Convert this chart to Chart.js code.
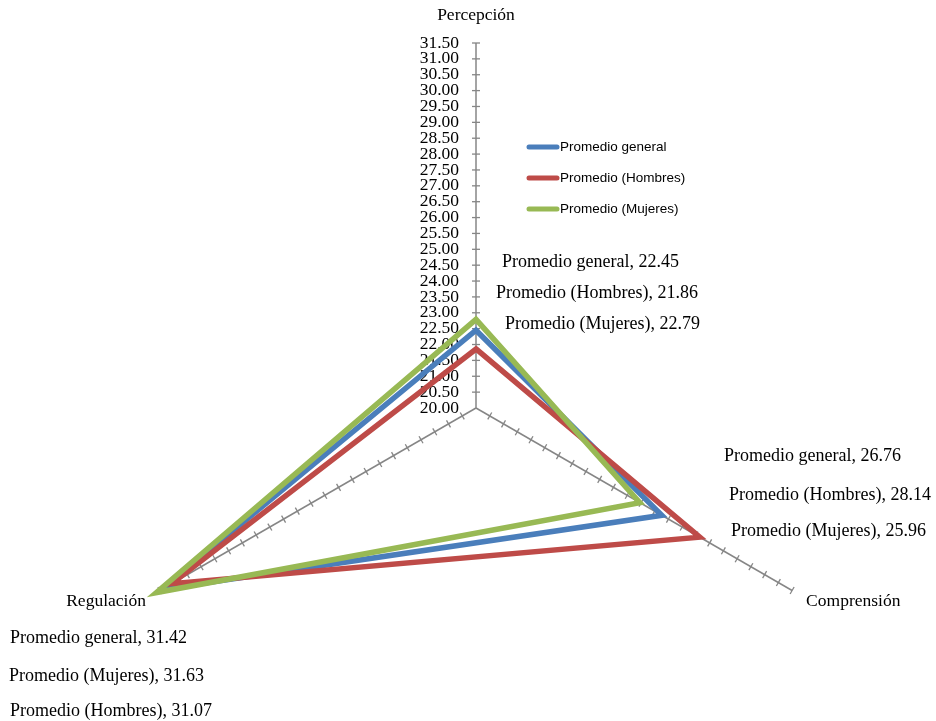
<!DOCTYPE html>
<html>
<head>
<meta charset="utf-8">
<script src="https://cdn.jsdelivr.net/npm/chart.js@4/dist/chart.umd.min.js"></script>
<style>
  html, body { margin:0; padding:0; background:#fff; overflow:hidden; }
  #wrap { width:936px; height:773px; position:relative; }
</style>
</head>
<body>
<div id="wrap"><canvas id="radar"></canvas></div>
<script>
// data
const categories = ["Percepción", "Comprensión", "Regulación"];
const seriesNames = ["Promedio general", "Promedio (Hombres)", "Promedio (Mujeres)"];
const general = [22.45, 26.76, 31.42];
const hombres = [21.86, 28.14, 31.07];
const mujeres = [22.79, 25.96, 31.63];
const tickMin = 20, tickMax = 31.5, tickStep = 0.5;

const colors = ["#4A7EBB", "#BE4B48", "#98B954"];
const axisColor = "#868686";
const serif = "'Liberation Serif', 'Times New Roman', serif";

// where the data label texts sit (per category: series index + left x + middle y)
const labelSpots = [
  [[0, 502, 262], [1, 496, 293], [2, 505, 324]],
  [[0, 724, 456], [1, 729, 495], [2, 731, 531]],
  [[0, 10, 638], [2, 9, 676], [1, 10, 711]]
];
const seriesData = [general, hombres, mujeres];

const extras = {
  id: "extras",
  beforeDatasetsDraw(chart){
    const r = chart.scales.r, ctx = chart.ctx;
    ctx.save();
    // tick marks on each axis
    ctx.strokeStyle = axisColor; ctx.lineWidth = 1.3;
    for(let i=0;i<categories.length;i++){
      const end = r.getPointPosition(i, r.drawingArea);
      const ang = Math.atan2(end.y - r.yCenter, end.x - r.xCenter);
      const px = -Math.sin(ang), py = Math.cos(ang);
      for(let v = tickMin + tickStep; v <= tickMax + 1e-9; v += tickStep){
        const p = r.getPointPositionForValue(i, v);
        ctx.beginPath();
        ctx.moveTo(p.x - px*4, p.y - py*4);
        ctx.lineTo(p.x + px*4, p.y + py*4);
        ctx.stroke();
      }
    }
    // tick labels along the first axis
    ctx.fillStyle = "#000";
    ctx.font = "17.5px " + serif;
    ctx.textAlign = "right"; ctx.textBaseline = "middle";
    for(let v = tickMin; v <= tickMax + 1e-9; v += tickStep){
      const p = r.getPointPositionForValue(0, v);
      ctx.fillText(v.toFixed(2), p.x - 17, p.y);
    }
    ctx.restore();
  },
  afterDraw(chart){
    const r = chart.scales.r, ctx = chart.ctx;
    ctx.save();
    ctx.fillStyle = "#000";
    ctx.font = "17.5px " + serif;
    ctx.textBaseline = "middle";
    // category names
    categories.forEach((c, i) => {
      const end = r.getPointPosition(i, r.drawingArea);
      if(i === 0){ ctx.textAlign = "center"; ctx.fillText(c, end.x, end.y - 28); }
      else if(end.x > r.xCenter){ ctx.textAlign = "left"; ctx.fillText(c, end.x + 14, end.y + 11); }
      else { ctx.textAlign = "right"; ctx.fillText(c, end.x - 14, end.y + 11); }
    });
    // data labels
    ctx.font = "18px " + serif;
    ctx.textAlign = "left";
    labelSpots.forEach((spots, i) => {
      spots.forEach(([s, x, y]) => {
        ctx.fillText(seriesNames[s] + ", " + seriesData[s][i].toFixed(2), x, y);
      });
    });
    // legend
    ctx.font = "13.5px 'Liberation Sans', Arial, sans-serif";
    ctx.lineCap = "round";
    seriesNames.forEach((n, k) => {
      const y = 147 + k*31;
      ctx.strokeStyle = colors[k]; ctx.lineWidth = 5;
      ctx.beginPath(); ctx.moveTo(529, y); ctx.lineTo(557, y); ctx.stroke();
      ctx.fillStyle = "#000";
      ctx.fillText(n, 560, y);
    });
    ctx.restore();
  }
};

new Chart(document.getElementById("radar"), {
  type: "radar",
  data: {
    labels: categories,
    datasets: seriesNames.map((n, k) => ({
      label: n,
      data: seriesData[k],
      borderColor: colors[k],
      backgroundColor: colors[k],
      borderWidth: 5.5,
      borderJoinStyle: "miter",
      pointRadius: 0,
      fill: false,
      tension: 0,
      clip: false,
      order: 3 - k
    }))
  },
  options: {
    responsive: true,
    maintainAspectRatio: false,
    animation: false,
    layout: { padding: { left: 111, right: 95, top: 43, bottom: 0 } },
    plugins: { legend: { display: false }, tooltip: { enabled: false } },
    scales: {
      r: {
        min: tickMin, max: tickMax,
        ticks: { display: false, stepSize: tickStep },
        grid: { display: false },
        angleLines: { display: true, color: axisColor, lineWidth: 1.5 },
        pointLabels: { display: false }
      }
    }
  },
  plugins: [extras]
});
</script>
</body>
</html>
